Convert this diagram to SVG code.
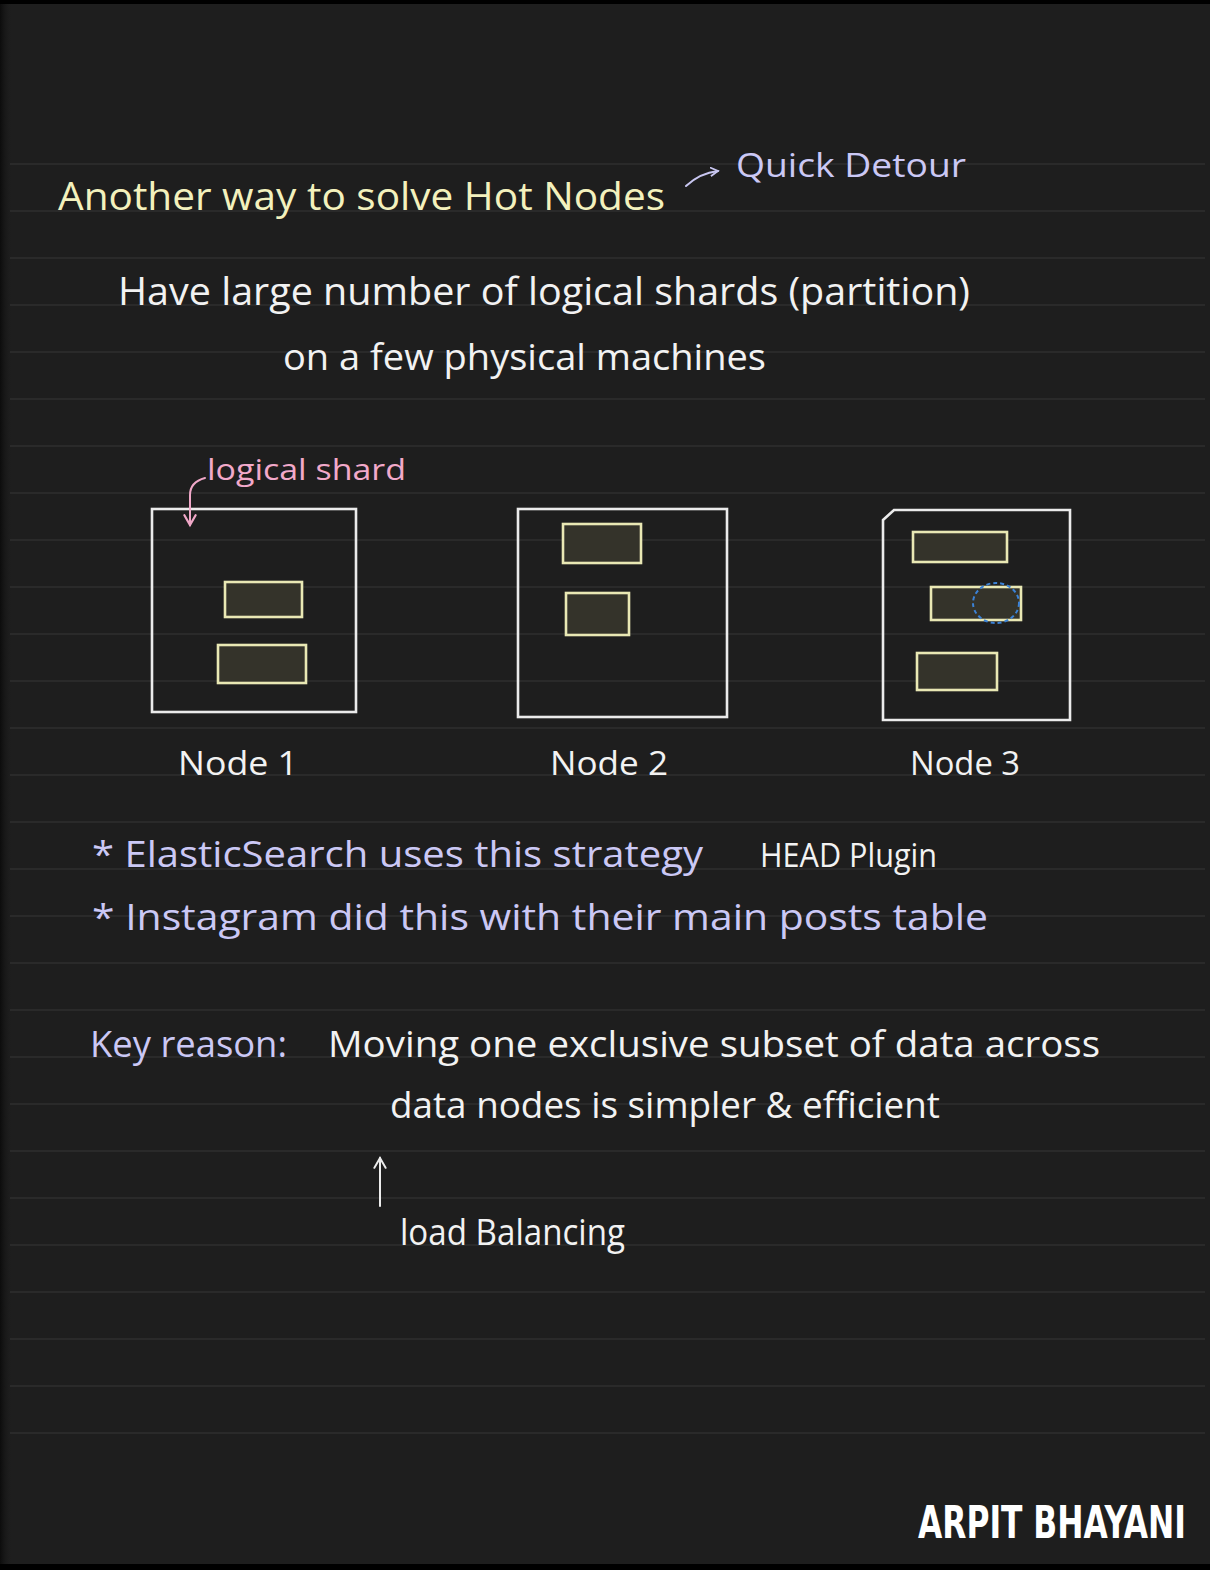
<svg xmlns="http://www.w3.org/2000/svg" width="1210" height="1570" viewBox="0 0 1210 1570">
  <defs>
    <linearGradient id="edgeShade" x1="0" y1="0" x2="1" y2="0">
      <stop offset="0" stop-color="#0c0c0c"/>
      <stop offset="1" stop-color="#1e1e1e" stop-opacity="0"/>
    </linearGradient>
    <marker id="arrPink" viewBox="0 0 10 10" refX="8" refY="5" markerWidth="14" markerHeight="14" orient="auto" markerUnits="userSpaceOnUse">
      <path d="M1 1 L8 5 L1 9" fill="none" stroke="#f0a8c8" stroke-width="1.6" stroke-linecap="round"/>
    </marker>
    <marker id="arrLav" viewBox="0 0 10 10" refX="8" refY="5" markerWidth="10" markerHeight="10" orient="auto" markerUnits="userSpaceOnUse">
      <path d="M1 1 L8 5 L1 9" fill="none" stroke="#c8c6f0" stroke-width="1.8" stroke-linecap="round"/>
    </marker>
    <marker id="arrUp" viewBox="0 0 10 10" refX="8" refY="5" markerWidth="14" markerHeight="14" orient="auto" markerUnits="userSpaceOnUse">
      <path d="M1 1 L8 5 L1 9" fill="none" stroke="#ececec" stroke-width="1.4" stroke-linecap="round"/>
    </marker>
  </defs>
  <style>
    .hand { font-family: "Open Sans", "Liberation Sans", sans-serif; font-weight: 400; }
    .title { fill: #f3f1bd; font-size: 38px; }
    .lav { fill: #cbc8f5; }
    .white { fill: #f2f2f2; }
    .pink { fill: #f2a9ca; }
    .node { fill: none; stroke: #ebebeb; stroke-width: 2.6; }
    .shard { fill: #34332a; stroke: #e9e8b4; stroke-width: 2.6; }
    .rule { stroke: #2a2a2a; stroke-width: 2; }
    .brand { font-family: "DejaVu Sans Condensed", "DejaVu Sans", "Liberation Sans", sans-serif; font-weight: 700; fill: #ffffff; }
  </style>

  <!-- paper -->
  <rect x="0" y="0" width="1210" height="1570" fill="#1e1e1e"/>
  <rect x="0" y="0" width="12" height="1570" fill="url(#edgeShade)"/>

  <!-- ruled lines -->
  <path class="rule" d="M10 164H1205 M10 211H1205 M10 258H1205 M10 305H1205 M10 352H1205 M10 399H1205 M10 446H1205 M10 493H1205 M10 540H1205 M10 587H1205 M10 634H1205 M10 681H1205 M10 728H1205 M10 775H1205 M10 822H1205 M10 869H1205 M10 916H1205 M10 963H1205 M10 1010H1205 M10 1057H1205 M10 1104H1205 M10 1151H1205 M10 1198H1205 M10 1245H1205 M10 1292H1205 M10 1339H1205 M10 1386H1205 M10 1433H1205"/>

  <rect x="0" y="0" width="1210" height="4" fill="#000"/>
  <rect x="0" y="1564" width="1210" height="6" fill="#000"/>

  <!-- heading -->
  <text class="hand title" x="58" y="210" textLength="607" lengthAdjust="spacingAndGlyphs">Another way to solve Hot Nodes</text>
  <text class="hand lav" x="736" y="177" font-size="32" textLength="230" lengthAdjust="spacingAndGlyphs">Quick Detour</text>

  <text class="hand white" x="118" y="305" font-size="38" textLength="852" lengthAdjust="spacingAndGlyphs">Have large number of logical shards (partition)</text>
  <text class="hand white" x="283" y="370" font-size="36" textLength="483" lengthAdjust="spacingAndGlyphs">on a few physical machines</text>

  <text class="hand pink" x="207" y="480" font-size="30" textLength="199" lengthAdjust="spacingAndGlyphs">logical shard</text>

  <!-- Node 1 -->
  <g id="node1">
    <rect class="node" x="152" y="509" width="204" height="203"/>
    <rect class="shard" x="225" y="582" width="77" height="35"/>
    <rect class="shard" x="218" y="645" width="88" height="38"/>
    <text class="hand white" x="178" y="775" font-size="32" textLength="120" lengthAdjust="spacingAndGlyphs">Node 1</text>
  </g>

  <!-- Node 2 -->
  <g id="node2">
    <rect class="node" x="518" y="509" width="209" height="208"/>
    <rect class="shard" x="563" y="524" width="78" height="39"/>
    <rect class="shard" x="566" y="593" width="63" height="42"/>
    <text class="hand white" x="550" y="775" font-size="32" textLength="118" lengthAdjust="spacingAndGlyphs">Node 2</text>
  </g>

  <!-- Node 3 -->
  <g id="node3">
    <path class="node" d="M883 520 L894 510 H1070 V720 H883 Z"/>
    <rect class="shard" x="913" y="532" width="94" height="30"/>
    <rect class="shard" x="931" y="587" width="90" height="33"/>
    <rect class="shard" x="917" y="653" width="80" height="37"/>
    <ellipse cx="996" cy="603" rx="23" ry="20" fill="none" stroke="#3b82d6" stroke-width="2" stroke-dasharray="4 3"/>
    <text class="hand white" x="910" y="775" font-size="32" textLength="110" lengthAdjust="spacingAndGlyphs">Node 3</text>
  </g>

  <!-- notes -->
  <text class="hand lav" x="92" y="867" font-size="36" textLength="611" lengthAdjust="spacingAndGlyphs">* ElasticSearch uses this strategy</text>
  <text class="hand white" x="760" y="867" font-size="32" textLength="177" lengthAdjust="spacingAndGlyphs">HEAD Plugin</text>
  <text class="hand lav" x="92" y="930" font-size="36" textLength="896" lengthAdjust="spacingAndGlyphs">* Instagram did this with their main posts table</text>

  <text class="hand lav" x="90" y="1057" font-size="36" textLength="197" lengthAdjust="spacingAndGlyphs">Key reason:</text>
  <text class="hand white" x="328" y="1057" font-size="36" textLength="772" lengthAdjust="spacingAndGlyphs">Moving one exclusive subset of data across</text>
  <text class="hand white" x="390" y="1118" font-size="36" textLength="550" lengthAdjust="spacingAndGlyphs">data nodes is simpler &amp; efficient</text>

  <text class="hand white" x="400" y="1245" font-size="36" textLength="225" lengthAdjust="spacingAndGlyphs">load Balancing</text>

  <!-- connectors -->
  <g id="connectors" fill="none" stroke-linecap="round">
    <path d="M686 186 Q700 173 718 171" stroke="#c8c6f0" stroke-width="2" marker-end="url(#arrLav)"/>
    <path d="M205 478 Q190 482 190 495 L190 525" stroke="#f0a8c8" stroke-width="2" marker-end="url(#arrPink)"/>
    <path d="M380 1206 L380 1158" stroke="#ececec" stroke-width="2" marker-end="url(#arrUp)"/>
  </g>

  <!-- signature: condensed bold, stretched vertically -->
  <g id="signature" transform="translate(918 1538) scale(1 1.4)">
    <text class="brand" x="0" y="0" font-size="32" textLength="268" lengthAdjust="spacingAndGlyphs">ARPIT BHAYANI</text>
  </g>
</svg>
